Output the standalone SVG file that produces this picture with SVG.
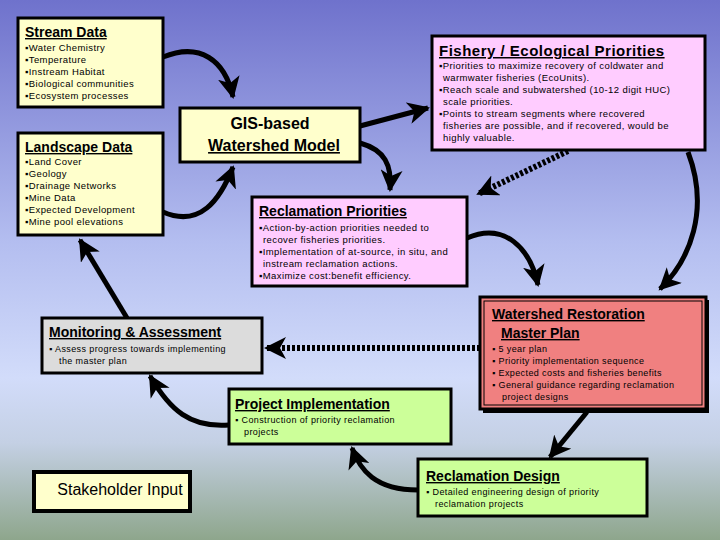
<svg xmlns="http://www.w3.org/2000/svg" width="720" height="540" viewBox="0 0 720 540">
<defs>
<linearGradient id="bg" x1="0" y1="0" x2="0" y2="1">
<stop offset="0" stop-color="#6f72cc"/>
<stop offset="0.45" stop-color="#b4bef0"/>
<stop offset="0.7" stop-color="#d2dcfa"/>
<stop offset="0.82" stop-color="#c4d0e4"/>
<stop offset="1" stop-color="#8ea68c"/>
</linearGradient>
<marker id="ah" markerWidth="24" markerHeight="22" refX="20" refY="11" orient="auto" markerUnits="userSpaceOnUse">
<path d="M0,0 L22,11 L0,22 L6,11 Z" fill="#000"/>
</marker>
</defs>
<style>
.box{stroke:#000;stroke-width:3}
.y{fill:#ffffcc}.p{fill:#ffccff}.g{fill:#ccff99}.gr{fill:#dcdcdc}.r{fill:#f08080}
text{font-family:"Liberation Sans",Arial,sans-serif;fill:#000}
.t{font-weight:bold;font-size:14px;text-decoration:underline}
.s{font-size:9.5px;letter-spacing:0.4px}
.c{fill:none;stroke:#000;stroke-width:5;marker-end:url(#ah)}
.d{fill:none;stroke:#000;stroke-width:6;stroke-dasharray:3 2;marker-end:url(#ah)}
</style>
<rect width="720" height="540" fill="url(#bg)"/>
<g id="connectors">
<path class="c" d="M163,57 C200,42 225,60 233,97"/>
<path class="c" d="M163,212 C200,228 220,200 233,167"/>
<path class="c" d="M360,126 L428,108"/>
<path class="c" d="M360,143 C385,150 392,165 390,190"/>
<path class="d" d="M568,151 L478,194"/>
<path class="c" d="M688,152 C710,210 690,260 660,289"/>
<path class="c" d="M467,238 C505,222 530,248 538,285"/>
<path class="d" d="M480,348 L266,348"/>
<path class="c" d="M587,412 L550,457"/>
<path class="c" d="M418,490 C375,490 360,470 352,448"/>
<path class="c" d="M229,425 C190,428 170,410 150,376"/>
<path class="c" d="M127,318 L80,240"/>
</g>
<g id="stream-data">
<rect class="box y" x="18" y="18" width="145" height="89"/>
<text class="t" x="25" y="37">Stream Data</text>
<text class="s" x="25" y="51">▪Water Chemistry</text>
<text class="s" x="25" y="63">▪Temperature</text>
<text class="s" x="25" y="75">▪Instream Habitat</text>
<text class="s" x="25" y="87">▪Biological communities</text>
<text class="s" x="25" y="99">▪Ecosystem processes</text>
</g>
<g id="landscape-data">
<rect class="box y" x="18" y="133" width="145" height="102"/>
<text class="t" x="25" y="152">Landscape Data</text>
<text class="s" x="25" y="165">▪Land Cover</text>
<text class="s" x="25" y="177">▪Geology</text>
<text class="s" x="25" y="189">▪Drainage Networks</text>
<text class="s" x="25" y="201">▪Mine Data</text>
<text class="s" x="25" y="213">▪Expected Development</text>
<text class="s" x="25" y="225">▪Mine pool elevations</text>
</g>
<g id="gis-model">
<rect class="box y" x="180" y="108" width="180" height="54"/>
<text x="270" y="129" text-anchor="middle" style="font-size:16px;font-weight:bold">GIS-based</text>
<text x="274" y="151" text-anchor="middle" style="font-size:16px;font-weight:bold;text-decoration:underline">Watershed Model</text>
</g>
<g id="fishery">
<rect class="box p" x="432" y="36" width="273" height="114"/>
<text class="t" x="439" y="56" style="font-size:15px;letter-spacing:0.5px">Fishery / Ecological Priorities</text>
<text class="s" x="439" y="69">▪Priorities to maximize recovery of coldwater and</text>
<text class="s" x="443" y="81">warmwater fisheries (EcoUnits).</text>
<text class="s" x="439" y="93">▪Reach scale and subwatershed (10-12 digit HUC)</text>
<text class="s" x="443" y="105">scale priorities.</text>
<text class="s" x="439" y="117">▪Points to stream segments where recovered</text>
<text class="s" x="443" y="129">fisheries are possible, and if recovered, would be</text>
<text class="s" x="443" y="141">highly valuable.</text>
</g>
<g id="reclamation-priorities">
<rect class="box p" x="252" y="197" width="215" height="89"/>
<text class="t" x="259" y="216">Reclamation Priorities</text>
<text class="s" x="259" y="231">▪Action-by-action priorities needed to</text>
<text class="s" x="263" y="243">recover fisheries priorities.</text>
<text class="s" x="259" y="255">▪Implementation of at-source, in situ, and</text>
<text class="s" x="263" y="267">instream reclamation actions.</text>
<text class="s" x="259" y="279">▪Maximize cost:benefit efficiency.</text>
</g>
<g id="master-plan">
<rect x="483" y="300" width="226" height="113" fill="#000"/>
<rect class="box r" x="480" y="297" width="226" height="112"/>
<rect x="484" y="301" width="218" height="104" fill="none" stroke="#000" stroke-width="1"/>
<text class="t" x="492" y="319">Watershed Restoration</text>
<text class="t" x="501" y="338">Master Plan</text>
<text class="s" x="492" y="352" style="font-size:9px">▪  5 year plan</text>
<text class="s" x="492" y="364" style="font-size:9px">▪  Priority implementation sequence</text>
<text class="s" x="492" y="376" style="font-size:9px">▪  Expected costs and fisheries benefits</text>
<text class="s" x="492" y="388" style="font-size:9px">▪  General guidance regarding reclamation</text>
<text class="s" x="502" y="400" style="font-size:9px">project designs</text>
</g>
<g id="monitoring">
<rect class="box gr" x="42" y="318" width="220" height="55"/>
<text class="t" x="49" y="337">Monitoring &amp; Assessment</text>
<text class="s" x="49" y="352" style="font-size:9px">▪  Assess progress towards implementing</text>
<text class="s" x="59" y="364" style="font-size:9px">the master plan</text>
</g>
<g id="project-implementation">
<rect class="box g" x="229" y="389" width="222" height="55"/>
<text class="t" x="235" y="409">Project Implementation</text>
<text class="s" x="235" y="423" style="font-size:9px">▪  Construction of priority reclamation</text>
<text class="s" x="244" y="435" style="font-size:9px">projects</text>
</g>
<g id="stakeholder-input">
<rect class="y" x="34" y="472" width="156" height="39" stroke="#000" stroke-width="4"/>
<text x="120" y="495" text-anchor="middle" style="font-size:16px">Stakeholder Input</text>
</g>
<g id="reclamation-design">
<rect class="box g" x="418" y="459" width="229" height="57"/>
<text class="t" x="426" y="481">Reclamation Design</text>
<text class="s" x="426" y="495" style="font-size:9px">▪  Detailed engineering design of priority</text>
<text class="s" x="435" y="507" style="font-size:9px">reclamation projects</text>
</g>
</svg>
